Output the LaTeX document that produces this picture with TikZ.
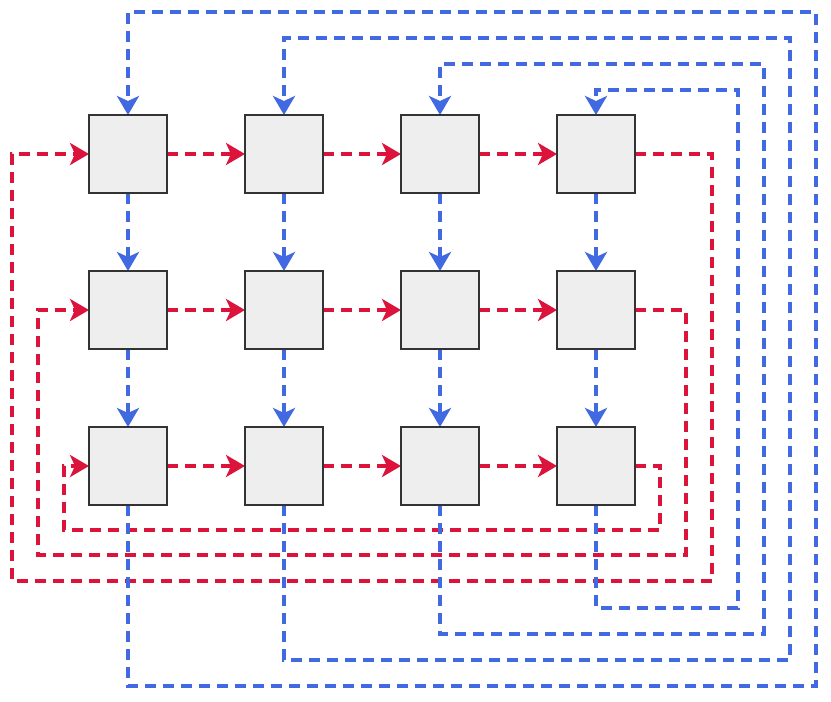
\documentclass[tikz,border=0pt]{standalone}
\usetikzlibrary{arrows.meta}
\definecolor{redc}{HTML}{DC143C}
\definecolor{bluec}{HTML}{4169E1}
\definecolor{boxfill}{HTML}{EEEEEE}
\definecolor{boxdraw}{HTML}{333333}
\begin{document}
\begin{tikzpicture}[x=1pt,y=-1pt,
  cell/.style={draw=boxdraw,fill=boxfill,line width=2.7pt,minimum width=78pt,minimum height=78pt,inner sep=0pt,outer sep=0pt},
  conn/.style={line width=3.4pt,dash pattern=on 11pt off 7pt},
  redline/.style={conn,draw=redc,-{Stealth[length=19pt,width=22pt,inset=5pt,fill=redc]}},
  blueline/.style={conn,draw=bluec,-{Stealth[length=19pt,width=22pt,inset=5pt,fill=bluec]}}]
\useasboundingbox (0,0) rectangle (831,702);
\foreach \r/\y in {1/154,2/310,3/466}{
  \foreach \c/\x in {1/128,2/284,3/440,4/596}{
    \coordinate (p\r\c) at (\x,\y);
  }
}
% corner coordinates for red wraps
\coordinate (ra1) at (712,154); \coordinate (rb1) at (712,581); \coordinate (rc1) at (12,581); \coordinate (rd1) at (12,154);
\coordinate (ra2) at (686,310); \coordinate (rb2) at (686,555); \coordinate (rc2) at (38,555); \coordinate (rd2) at (38,310);
\coordinate (ra3) at (660,466); \coordinate (rb3) at (660,530); \coordinate (rc3) at (64,530); \coordinate (rd3) at (64,466);
% corner coordinates for blue wraps
\coordinate (ba1) at (128,686); \coordinate (bb1) at (816,686); \coordinate (bc1) at (816,12); \coordinate (bd1) at (128,12);
\coordinate (ba2) at (284,660); \coordinate (bb2) at (790,660); \coordinate (bc2) at (790,38); \coordinate (bd2) at (284,38);
\coordinate (ba3) at (440,634); \coordinate (bb3) at (764,634); \coordinate (bc3) at (764,64); \coordinate (bd3) at (440,64);
\coordinate (ba4) at (596,608); \coordinate (bb4) at (738,608); \coordinate (bc4) at (738,90); \coordinate (bd4) at (596,90);
% nodes (drawn first for anchors, redrawn later on top)
\foreach \r in {1,2,3}{\foreach \c in {1,2,3,4}{\node[cell] (b\r\c) at (p\r\c) {};}}
% red connectors
\foreach \r in {1,2,3}{
  \draw[redline] (b\r1.east) -- (b\r2.west);
  \draw[redline] (b\r2.east) -- (b\r3.west);
  \draw[redline] (b\r3.east) -- (b\r4.west);
  \draw[redline] (b\r4.east) -- (ra\r) -- (rb\r) -- (rc\r) -- (rd\r) -- (b\r1.west);
}
% blue connectors
\foreach \c in {1,2,3,4}{
  \draw[blueline] (b1\c.south) -- (b2\c.north);
  \draw[blueline] (b2\c.south) -- (b3\c.north);
  \draw[blueline] (b3\c.south) -- (ba\c) -- (bb\c) -- (bc\c) -- (bd\c) -- (b1\c.north);
}
\foreach \r in {1,2,3}{\foreach \c in {1,2,3,4}{\node[cell] at (p\r\c) {};}}
\end{tikzpicture}
\end{document}
